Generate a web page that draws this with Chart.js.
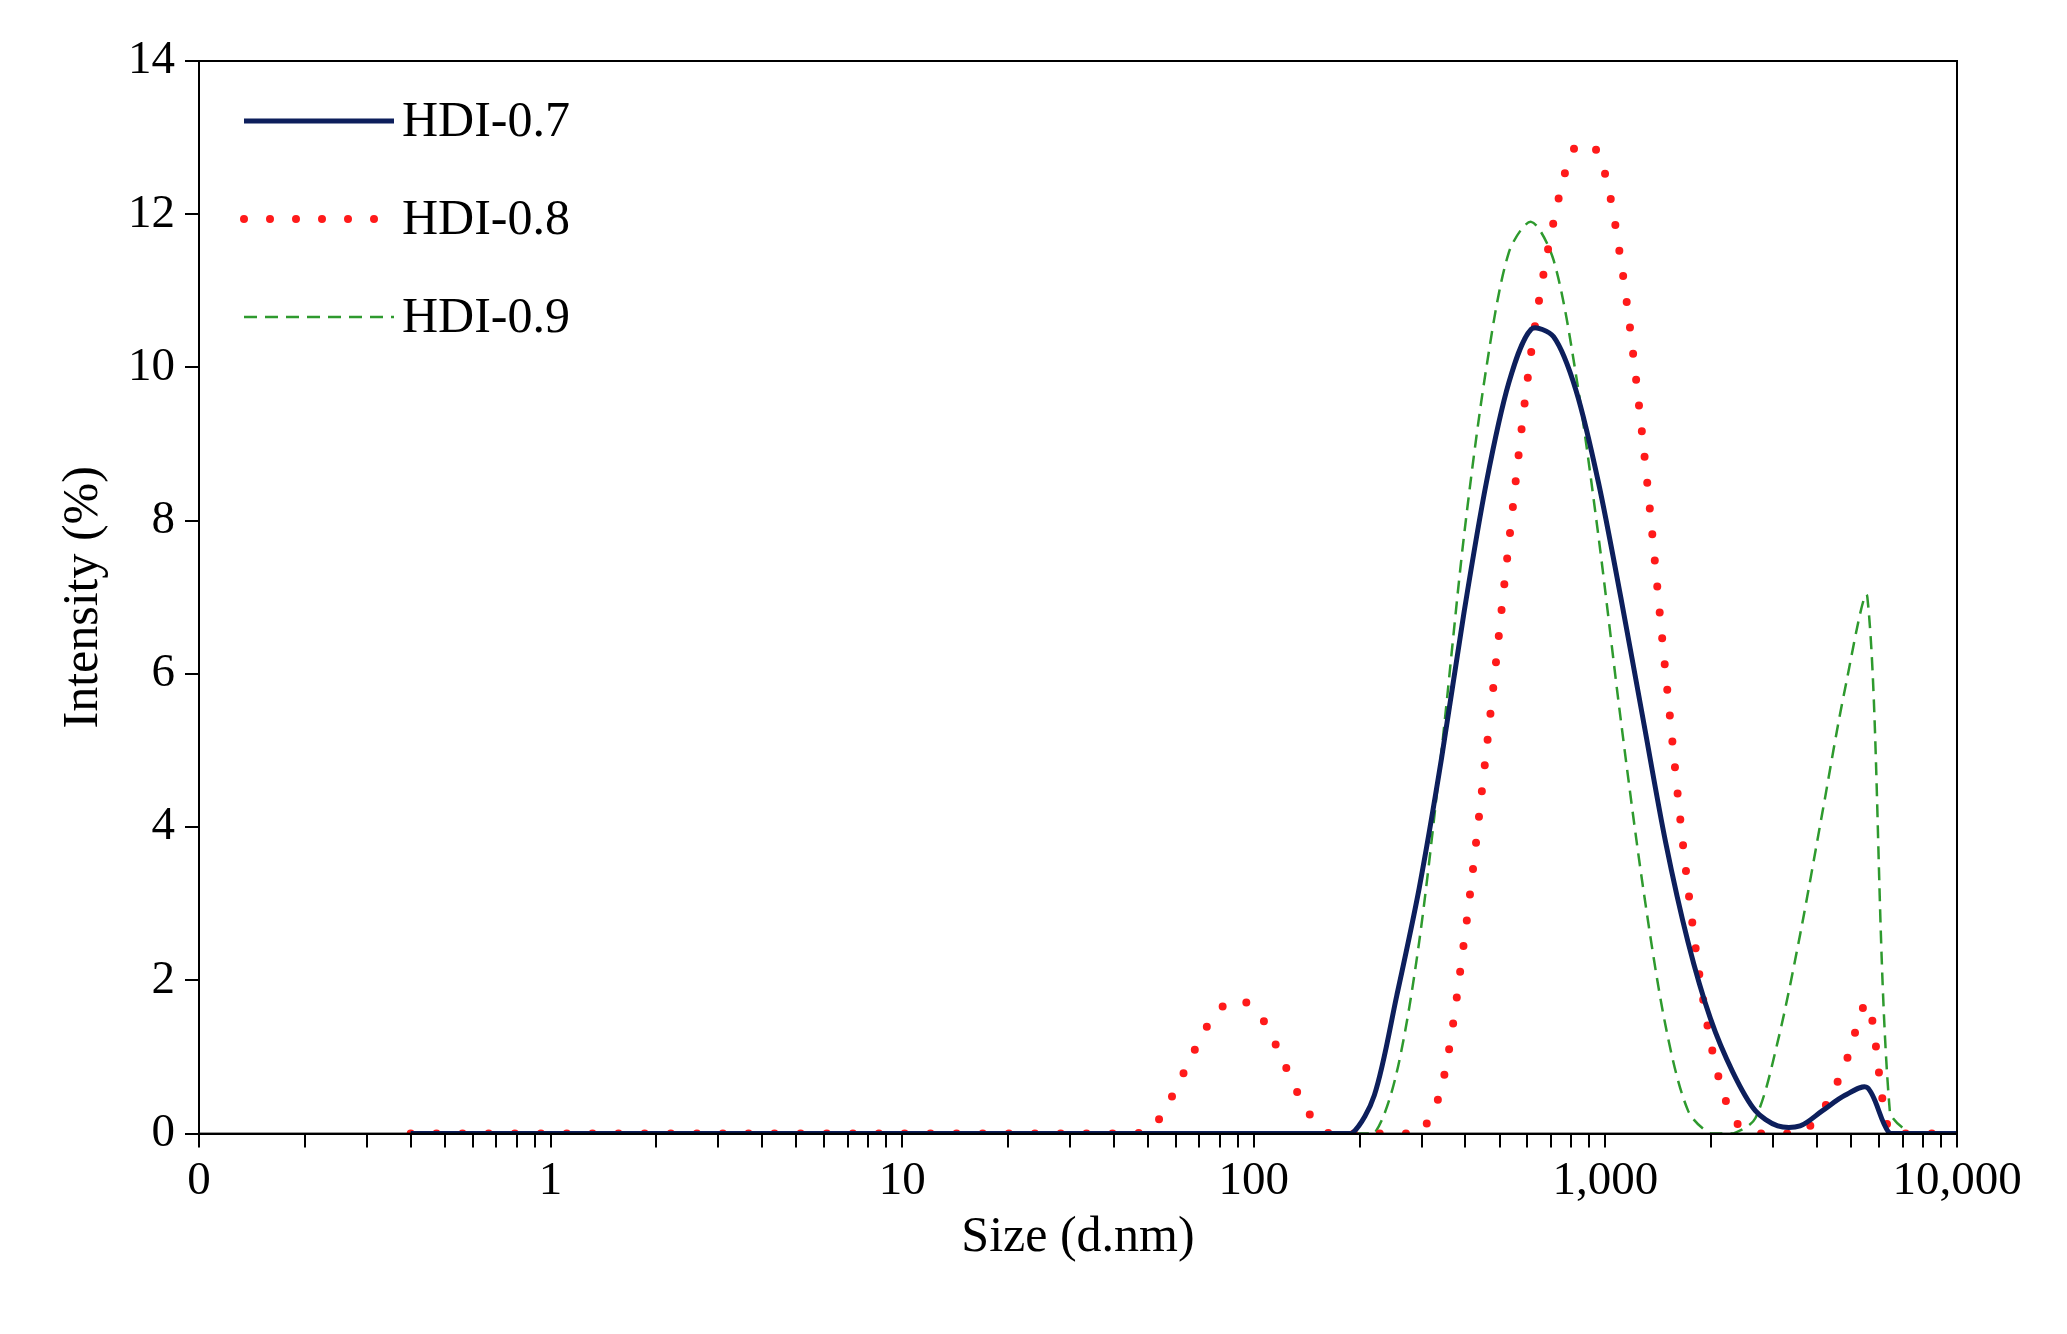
<!DOCTYPE html>
<html>
<head>
<meta charset="utf-8">
<script src="https://cdn.jsdelivr.net/npm/chart.js@4"></script>
<style>
  html, body { margin: 0; padding: 0; background: #fff; }
  #wrap { width: 2067px; height: 1334px; }
</style>
</head>
<body>
<div id="wrap"><canvas id="sizeChart" width="2067" height="1334"></canvas></div>
<script>
// size bins (d.nm)
var sizes = [0.4, 0.4632, 0.5365, 0.6213, 0.7195, 0.8332, 0.9649, 1.117, 1.294, 1.499,
  1.736, 2.01, 2.328, 2.696, 3.122, 3.615, 4.187, 4.849, 5.615, 6.503,
  7.531, 8.721, 10.1, 11.7, 13.54, 15.69, 18.17, 21.04, 24.36, 28.21,
  32.67, 37.84, 43.82, 50.75, 58.77, 68.06, 78.82, 91.28, 105.7, 122.4,
  141.8, 164.2, 190.1, 220.2, 255.0, 295.3, 342.0, 396.1, 458.7, 531.2,
  615.1, 712.4, 825.0, 955.4, 1106, 1281, 1484, 1718, 1990, 2305,
  2669, 3091, 3580, 4145, 4801, 5560, 6439, 7456, 8635, 10000];

// intensity (%), 70 values each
var hdi07 = [0,0,0,0,0,0,0,0,0,0, 0,0,0,0,0,0,0,0,0,0, 0,0,0,0,0,0,0,0,0,0,
  0,0,0,0,0,0,0,0,0,0, 0,0,0,0.5,1.8,3.2,4.9,6.8,8.5,9.8,
  10.5,10.4,9.7,8.5,7.0,5.4,3.8,2.5,1.5,0.8, 0.3,0.1,0.1,0.3,0.5,0.6,0,0,0,0];
var hdi08 = [0,0,0,0,0,0,0,0,0,0, 0,0,0,0,0,0,0,0,0,0, 0,0,0,0,0,0,0,0,0,0,
  0,0,0,0.05,0.5,1.1,1.6,1.75,1.5,0.9, 0.3,0,0,0,0,0,0.6,2.5,5.0,7.7,
  10.2,11.9,12.9,12.8,11.4,9.0,6.0,3.2,1.2,0.2, 0,0,0,0.3,0.9,1.7,0,0,0,0];
var hdi09 = [0,0,0,0,0,0,0,0,0,0, 0,0,0,0,0,0,0,0,0,0, 0,0,0,0,0,0,0,0,0,0,
  0,0,0,0,0,0,0,0,0,0, 0,0,0,0,0.8,2.5,5.0,7.8,10.0,11.5,
  11.9,11.4,9.9,7.8,5.4,3.2,1.4,0.3,0,0, 0.2,1.2,2.6,4.2,5.8,7.0,0.3,0,0,0];

var seriesNames = ['HDI-0.7', 'HDI-0.8', 'HDI-0.9'];
var majorTicks = [0.1, 1, 10, 100, 1000, 10000];
var yTicks = [0, 2, 4, 6, 8, 10, 12, 14];

function pts(vals) {
  return sizes.map(function (s, i) { return { x: s, y: vals[i] }; });
}

var FONT = '"Liberation Serif", "Times New Roman", serif';

// frame + legend inside the plot
var framePlugin = {
  id: 'frame',
  afterDatasetsDraw: function (chart) {
    var c = chart.ctx, a = chart.chartArea;
    c.save();
    c.strokeStyle = '#000';
    c.lineWidth = 2;
    c.strokeRect(a.left, a.top, a.right - a.left, a.bottom - a.top);
    // legend
    var x0 = a.left + 45, x1 = a.left + 195, y = a.top + 60;
    chart.data.datasets.forEach(function (ds, i) {
      var yy = y + i * 98;
      c.beginPath();
      c.strokeStyle = ds.borderColor;
      c.lineWidth = ds.borderWidth;
      c.lineCap = ds.borderCapStyle || 'butt';
      c.setLineDash(ds.borderDash || []);
      c.moveTo(x0, yy);
      c.lineTo(x1, yy);
      c.stroke();
      c.setLineDash([]);
      c.fillStyle = '#000';
      c.font = '50px ' + FONT;
      c.textBaseline = 'middle';
      c.fillText(ds.label, x1 + 8, yy + 2);
    });
    c.restore();
  }
};

var ctx = document.getElementById('sizeChart').getContext('2d');
var myChart = new Chart(ctx, {
  type: 'line',
  data: {
    datasets: [
      { label: seriesNames[0], data: pts(hdi07), borderColor: '#0d1f5c', borderWidth: 5,
        pointRadius: 0, tension: 0.3 },
      { label: seriesNames[1], data: pts(hdi08), borderColor: '#ff1a1a', borderWidth: 8,
        borderDash: [0, 26], borderCapStyle: 'round', pointRadius: 0, tension: 0.3 },
      { label: seriesNames[2], data: pts(hdi09), borderColor: '#2e9a2e', borderWidth: 2.5,
        borderDash: [13, 8], pointRadius: 0, tension: 0.3 }
    ]
  },
  options: {
    responsive: false,
    animation: false,
    layout: { padding: { left: 50, right: 110, top: 61, bottom: 62 } },
    plugins: { legend: { display: false }, tooltip: { enabled: false } },
    scales: {
      x: {
        type: 'logarithmic',
        min: 0.1, max: 10000,
        afterBuildTicks: function (scale) {
          var t = [];
          for (var d = 0.1; d < 10000; d *= 10) {
            for (var k = 1; k < 10; k++) t.push({ value: +(d * k).toPrecision(3), major: k === 1 });
          }
          t.push({ value: 10000, major: true });
          scale.ticks = t;
        },
        ticks: {
          autoSkip: false, maxRotation: 0, color: '#000', padding: 6,
          font: { family: FONT, size: 47 },
          callback: function (v) {
            if (majorTicks.indexOf(v) < 0) return '';
            if (v < 1) return '0';
            return v.toLocaleString('en-US');
          }
        },
        grid: { drawOnChartArea: false, color: '#000', tickLength: 14, lineWidth: 2 },
        border: { color: '#000', width: 2 },
        title: { display: true, text: 'Size (d.nm)', color: '#000', padding: { top: -8 },
          font: { family: FONT, size: 50 } }
      },
      y: {
        min: 0, max: 14,
        afterBuildTicks: function (scale) {
          scale.ticks = yTicks.map(function (v) { return { value: v }; });
        },
        ticks: { color: '#000', padding: 10, font: { family: FONT, size: 47 } },
        grid: { drawOnChartArea: false, color: '#000', tickLength: 14, lineWidth: 2 },
        border: { color: '#000', width: 2 },
        title: { display: true, text: 'Intensity (%)', color: '#000',
          font: { family: FONT, size: 50 } }
      }
    }
  },
  plugins: [framePlugin]
});
</script>
</body>
</html>
